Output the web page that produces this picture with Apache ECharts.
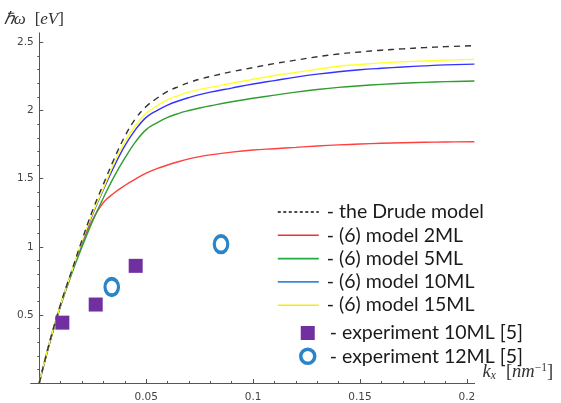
<!DOCTYPE html>
<html>
<head>
<meta charset="utf-8">
<script src="https://cdn.jsdelivr.net/npm/echarts@6/dist/echarts.min.js"></script>
<style>
  html, body { margin: 0; padding: 0; background: #fff; }
  #chart { width: 561px; height: 403px; }
</style>
</head>
<body>
<div id="chart"></div>
<script>
// Wave vector samples, nm^-1
const kx = [0, 0.005, 0.01, 0.015, 0.02, 0.025, 0.03, 0.035, 0.04, 0.045, 0.05, 0.055, 0.06, 0.065, 0.07, 0.075, 0.08,
            0.09, 0.10, 0.11, 0.12, 0.13, 0.14, 0.15, 0.16, 0.17, 0.18, 0.19, 0.2035];

// Plasmon energy, eV
const drude = [0, 0.31, 0.58, 0.815, 1.05, 1.27, 1.46, 1.645, 1.81, 1.94, 2.03, 2.09, 2.14, 2.175, 2.205, 2.23, 2.25,
               2.285, 2.315, 2.345, 2.37, 2.395, 2.415, 2.43, 2.443, 2.453, 2.462, 2.469, 2.476];
const model2ML = [0, 0.30, 0.57, 0.80, 1.03, 1.20, 1.325, 1.395, 1.45, 1.497, 1.54, 1.573, 1.60, 1.624, 1.645, 1.662, 1.675,
                  1.695, 1.71, 1.72, 1.73, 1.74, 1.748, 1.754, 1.76, 1.764, 1.767, 1.769, 1.771];
const model5ML = [0, 0.30, 0.565, 0.795, 1.0, 1.19, 1.36, 1.515, 1.65, 1.77, 1.86, 1.91, 1.95, 1.978, 2.0, 2.019, 2.035,
                  2.065, 2.09, 2.113, 2.135, 2.154, 2.17, 2.182, 2.192, 2.2, 2.207, 2.212, 2.217];
const model10ML = [0, 0.31, 0.575, 0.81, 1.03, 1.24, 1.42, 1.59, 1.74, 1.86, 1.95, 2.0, 2.04, 2.07, 2.095, 2.117, 2.135,
                   2.165, 2.195, 2.22, 2.245, 2.267, 2.285, 2.299, 2.31, 2.32, 2.328, 2.335, 2.341];
const model15ML = [0, 0.31, 0.575, 0.81, 1.04, 1.25, 1.43, 1.615, 1.77, 1.89, 1.98, 2.035, 2.08, 2.11, 2.135, 2.155, 2.17,
                   2.20, 2.23, 2.257, 2.28, 2.303, 2.325, 2.338, 2.35, 2.358, 2.364, 2.37, 2.376];

// Measured points
const exp10k = [0.0108, 0.0264, 0.0451];
const exp10w = [0.443, 0.576, 0.86];
const exp12k = [0.0339, 0.085];
const exp12w = [0.705, 1.019];

// Ticks and labels
const xMajor = [0.05, 0.1, 0.15, 0.2];
const xMinor = [0.01, 0.02, 0.03, 0.04, 0.06, 0.07, 0.08, 0.09, 0.11, 0.12, 0.13, 0.14, 0.16, 0.17, 0.18, 0.19];
const yMajor = [0.5, 1, 1.5, 2, 2.5];
const yMinor = [0.1, 0.2, 0.3, 0.4, 0.6, 0.7, 0.8, 0.9, 1.1, 1.2, 1.3, 1.4, 1.6, 1.7, 1.8, 1.9, 2.1, 2.2, 2.3, 2.4];

const names = ['- the Drude model', '- (6) model 2ML', '- (6) model 5ML', '- (6) model 10ML', '- (6) model 15ML',
               '- experiment 10ML [5]', '- experiment 12ML [5]'];

const pair = (xs, ys) => xs.map((x, i) => [x, ys[i]]);

const X_MIN = -0.004, X_MAX = 0.2036, Y_MIN = 0, Y_MAX = 2.57;
const axisColor = '#555';
const tickFont = { fontFamily: 'DejaVu Sans', fontSize: 10.5, color: '#444' };
const legendText = { fontFamily: 'Lato', fontSize: 19.5, color: '#1a1a1a', lineHeight: 20 };
const hideSymbol = { opacity: 0 };
const serif = 'Liberation Serif';

function lineSeries(name, data, color, extra) {
  return Object.assign({
    name, type: 'line', data: pair(kx, data),
    xAxisIndex: 0, yAxisIndex: 0,
    symbol: 'none', smooth: 0.4,
    lineStyle: { color, width: 1.4 },
    itemStyle: { color },
    silent: true, animation: false
  }, extra || {});
}

const chart = echarts.init(document.getElementById('chart'), null, { renderer: 'canvas' });
chart.setOption({
  backgroundColor: '#fff',
  animation: false,
  grid: { left: 30.7, right: 86.4, top: 32.9, bottom: 10.3, containLabel: false },
  xAxis: [
    {
      type: 'value', min: X_MIN, max: X_MAX, position: 'bottom',
      axisLine: { onZero: false, lineStyle: { color: axisColor, width: 1 } },
      axisTick: { inside: true, length: 4, customValues: xMajor, lineStyle: { color: axisColor } },
      axisLabel: { customValues: xMajor, margin: 9, ...tickFont, formatter: v => String(+v.toFixed(2)) },
      splitLine: { show: false },
      name: '{i|k}{s|x}{g| }{t|[}{i|nm}{p|−1}{t|]}',
      nameLocation: 'end', nameGap: 8,
      nameTextStyle: {
        align: 'left', verticalAlign: 'bottom', padding: [0, 0, 1, 0],
        rich: {
          i: { fontFamily: serif, fontStyle: 'italic', fontSize: 18.5, color: '#333' },
          t: { fontFamily: serif, fontSize: 18.5, color: '#333' },
          g: { fontSize: 18, width: 10 },
          s: { fontFamily: serif, fontStyle: 'italic', fontSize: 11.5, color: '#333', verticalAlign: 'bottom', padding: [7, 0, 0, 0] },
          p: { fontFamily: serif, fontSize: 11.5, color: '#333', verticalAlign: 'top', padding: [0, 0, 8, 0] }
        }
      }
    },
    {
      type: 'value', min: X_MIN, max: X_MAX, position: 'bottom',
      axisLine: { show: false },
      axisTick: { inside: true, length: 2, customValues: xMinor, lineStyle: { color: axisColor } },
      axisLabel: { show: false },
      splitLine: { show: false }
    }
  ],
  yAxis: [
    {
      type: 'value', min: Y_MIN, max: Y_MAX,
      axisLine: { onZero: true, lineStyle: { color: axisColor, width: 1 } },
      axisTick: { inside: true, length: 4, customValues: yMajor, lineStyle: { color: axisColor } },
      axisLabel: { customValues: yMajor, margin: -3, ...tickFont, formatter: v => String(+v.toFixed(1)) },
      splitLine: { show: false },
      name: '{i|ℏω}{g| }{t|[}{i|eV}{t|]}',
      nameLocation: 'end', nameGap: 5,
      nameTextStyle: {
        align: 'center', padding: [0, 11, 0, 0],
        rich: {
          i: { fontFamily: serif, fontStyle: 'italic', fontSize: 17, color: '#333' },
          t: { fontFamily: serif, fontSize: 17, color: '#333' },
          g: { fontSize: 17, width: 9 }
        }
      }
    },
    {
      type: 'value', min: Y_MIN, max: Y_MAX,
      axisLine: { show: false, onZero: true },
      axisTick: { inside: true, length: 2, customValues: yMinor, lineStyle: { color: axisColor } },
      axisLabel: { show: false },
      splitLine: { show: false }
    }
  ],
  legend: [
    {
      orient: 'vertical', left: 272, top: 197,
      itemWidth: 41, itemHeight: 14, itemGap: 3.3,
      selectedMode: false,
      textStyle: Object.assign({ padding: [0, 0, 0, 3] }, legendText),
      data: [
        { name: names[0], itemStyle: hideSymbol, lineStyle: { color: '#111', type: [3, 2.5], width: 1.5 } },
        { name: names[1], itemStyle: hideSymbol, lineStyle: { color: '#ee3333', width: 1.6 } },
        { name: names[2], itemStyle: hideSymbol, lineStyle: { color: '#22aa44', width: 1.6 } },
        { name: names[3], itemStyle: hideSymbol, lineStyle: { color: '#3a8ad6', width: 1.6 } },
        { name: names[4], itemStyle: hideSymbol, lineStyle: { color: '#f0ee10', width: 1.6 } }
      ]
    },
    {
      orient: 'vertical', left: 294, top: 318,
      itemWidth: 14, itemHeight: 14, itemGap: 3.3,
      selectedMode: false,
      textStyle: Object.assign({ padding: [0, 0, 0, 10] }, legendText),
      data: [
        { name: names[5] },
        { name: names[6], itemStyle: { color: '#fff', borderColor: '#2a84c8', borderWidth: 3.5 } }
      ]
    }
  ],
  series: [
    lineSeries(names[1], model2ML, '#ff4040'),
    lineSeries(names[2], model5ML, '#2e9e2e'),
    lineSeries(names[3], model10ML, '#3333ff'),
    lineSeries(names[4], model15ML, '#ffff30'),
    lineSeries(names[0], drude, '#333', { lineStyle: { color: '#333', width: 1.4, type: [6, 5] }, z: 3 }),
    {
      name: names[5], type: 'scatter', data: pair(exp10k, exp10w),
      symbol: 'rect', symbolSize: 14,
      itemStyle: { color: '#7030a0', opacity: 1 },
      silent: true, z: 4
    },
    {
      name: names[6], type: 'scatter', data: pair(exp12k, exp12w),
      symbol: 'circle', symbolSize: [13.5, 16.5],
      itemStyle: { color: '#fff', borderColor: '#2a84c8', borderWidth: 3.5, opacity: 1 },
      silent: true, z: 4
    }
  ]
});
</script>
</body>
</html>
